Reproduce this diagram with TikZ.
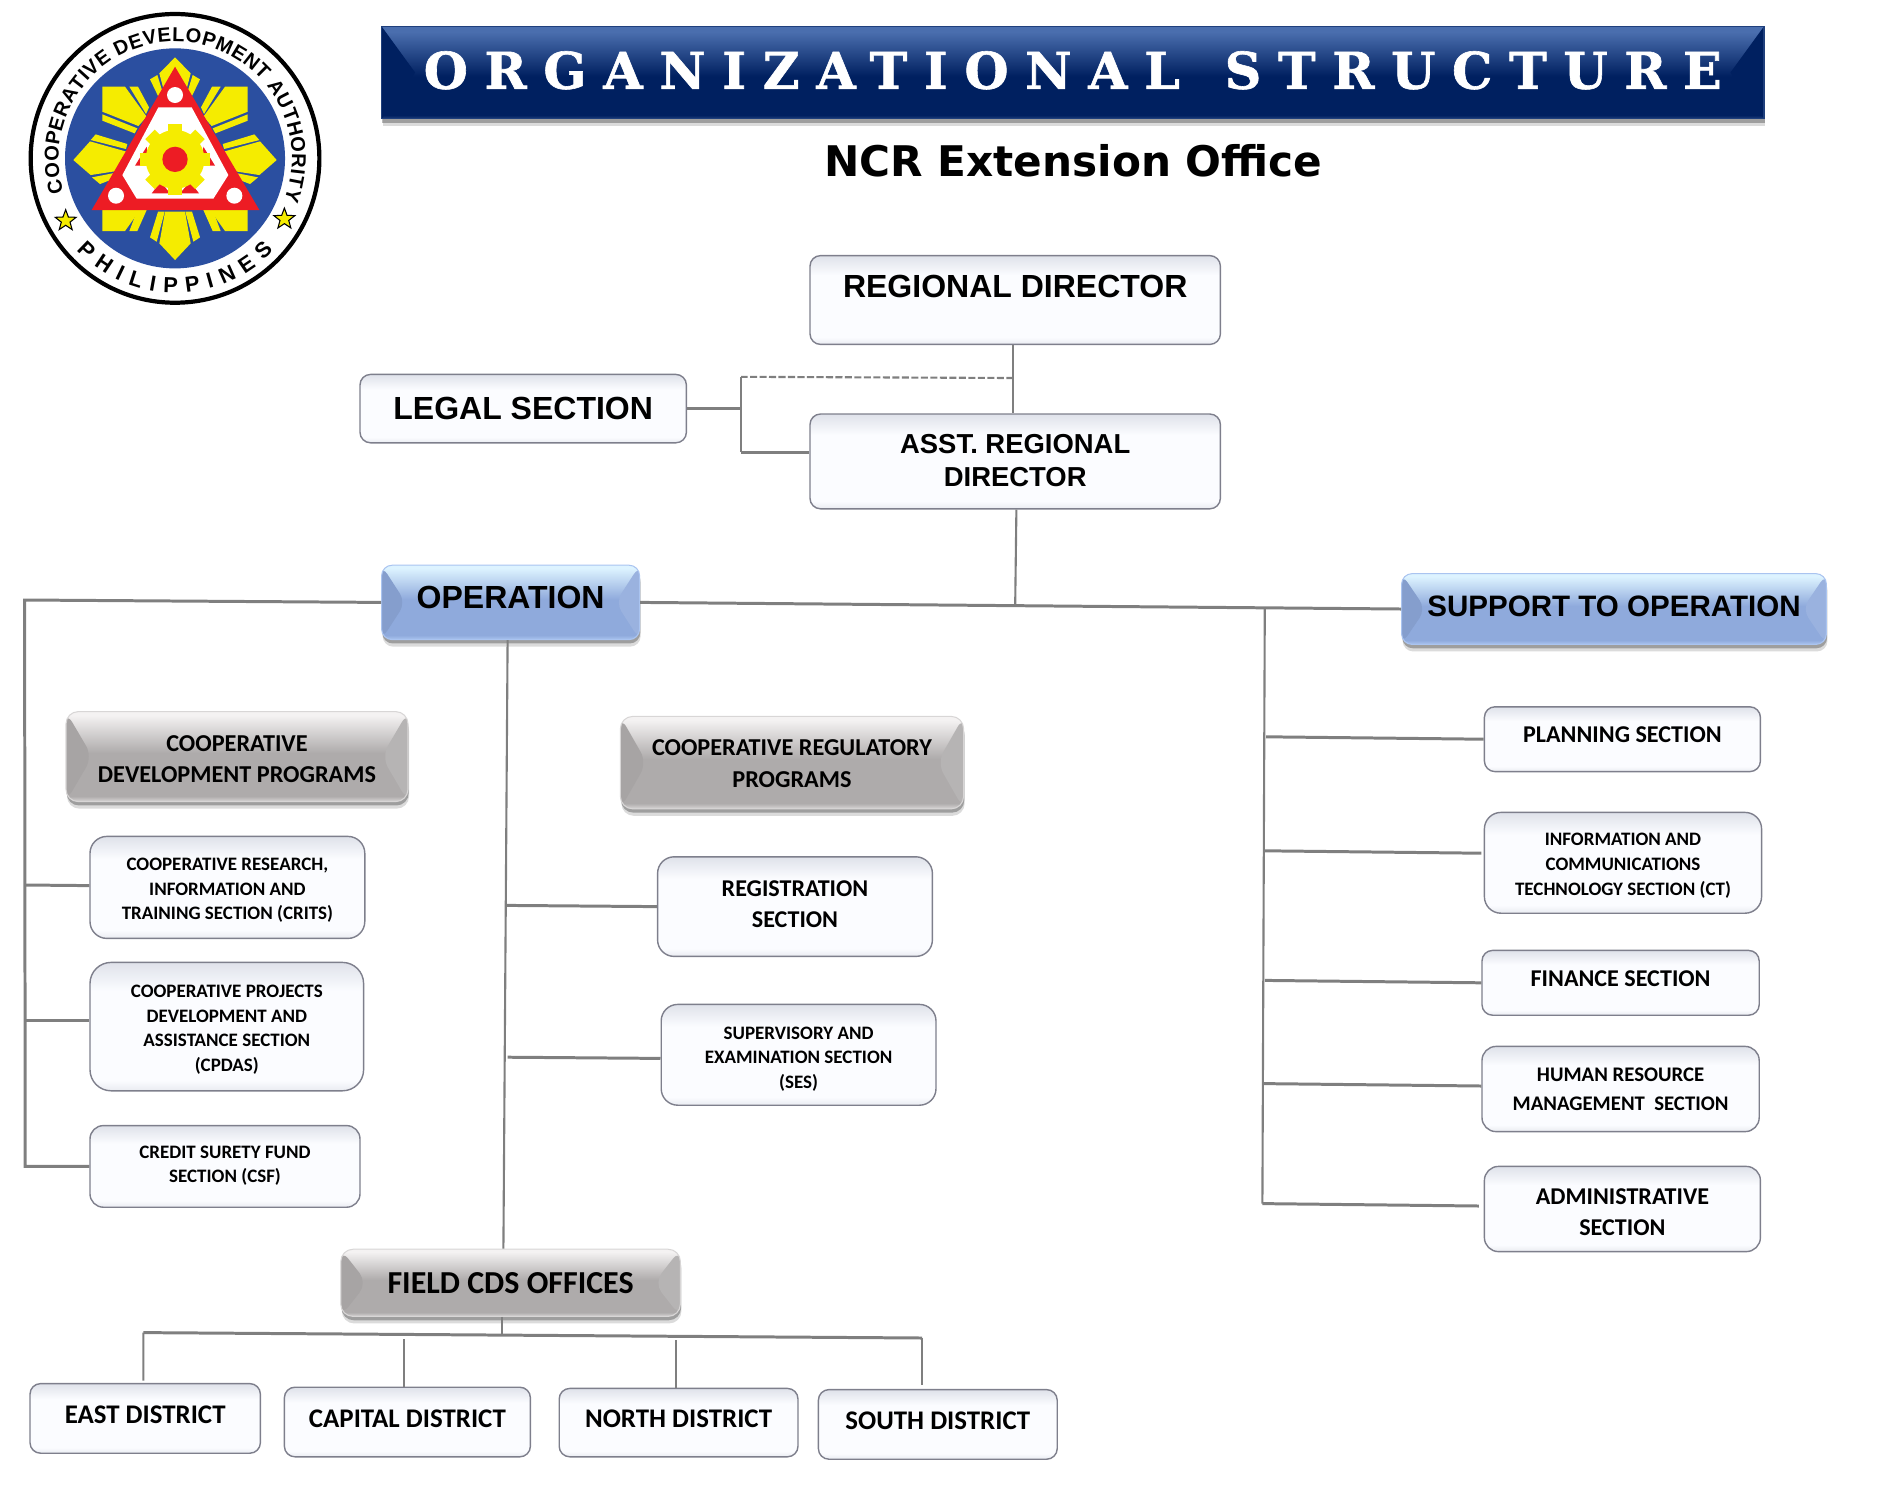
\documentclass[tikz,border=0pt]{standalone}
\usepackage{fontspec}
\setmainfont{Carlito}
\newfontfamily\arialfont{Liberation Sans}
\newfontfamily\titlefont[LetterSpace=33,FakeBold=1.2]{DejaVu Serif}
\newfontfamily\officefont{DejaVu Sans}
\usetikzlibrary{positioning,calc,shadows,shapes.geometric,decorations.text}
\definecolor{linegray}{HTML}{7F7F7F}
\definecolor{secedge}{HTML}{7E7F8C}
\definecolor{secmid}{HTML}{FBFCFF}
\definecolor{sectop}{HTML}{DFE2EA}
\definecolor{secbot}{HTML}{E9EBF1}
\definecolor{navytop}{HTML}{4A6EAE}
\definecolor{navy}{HTML}{002060}
\definecolor{navybot}{HTML}{1F3F7C}
\definecolor{bluetop}{HTML}{DDF3FF}
\definecolor{bluemid}{HTML}{8FAADC}
\definecolor{bluebot}{HTML}{AAC4F0}
\definecolor{graytop}{HTML}{F4F2F2}
\definecolor{graymid}{HTML}{AEABAB}
\definecolor{graybot}{HTML}{D8D6D6}
\definecolor{cdablue}{HTML}{2B4FA0}
\definecolor{cdayellow}{HTML}{F5EC00}
\definecolor{cdared}{HTML}{ED1C24}
\pgfdeclareverticalshading{secshade}{100bp}{color(0bp)=(secbot); color(25bp)=(secbot); color(29bp)=(secmid); color(64bp)=(secmid); color(75bp)=(sectop); color(100bp)=(sectop)}
\pgfdeclareverticalshading{navyshade}{100bp}{color(0bp)=(navybot); color(25bp)=(navybot); color(27bp)=(navy); color(48bp)=(navy); color(72bp)=(navytop); color(75bp)=(navytop); color(100bp)=(navytop)}
\pgfdeclareverticalshading{blueshade}{100bp}{color(0bp)=(bluebot); color(25bp)=(bluebot); color(28bp)=(bluemid); color(52bp)=(bluemid); color(73bp)=(bluetop); color(75bp)=(bluetop); color(100bp)=(bluetop)}
\pgfdeclareverticalshading{grayshade}{100bp}{color(0bp)=(graybot); color(25bp)=(graybot); color(28bp)=(graymid); color(52bp)=(graymid); color(73bp)=(graytop); color(75bp)=(graytop); color(100bp)=(graytop)}
\tikzset{
  boxsize/.style 2 args={minimum width=#1*0.012cm,minimum height=#2*0.012cm,inner sep=0pt,align=center},
  softshadow/.style={drop shadow={shadow xshift=0.3pt,shadow yshift=-2pt,opacity=0.14,fill=black},drop shadow={shadow xshift=0.2pt,shadow yshift=-1.1pt,opacity=0.28,fill=black}},
  bevel/.style n args={3}{path picture={
    \fill[#2] (path picture bounding box.north west) -- ($(path picture bounding box.west)+(#1,0)$) -- (path picture bounding box.south west) -- cycle;
    \fill[#3] (path picture bounding box.north east) -- ($(path picture bounding box.east)+(-#1,0)$) -- (path picture bounding box.south east) -- cycle;}}
}
\tikzstyle{conn} = [draw=linegray,line width=0.85pt]
\tikzstyle{thinconn} = [draw=linegray,line width=0.6pt]
\tikzstyle{secbox} = [draw=secedge,line width=0.4pt,rounded corners=3pt,shading=secshade]
\tikzstyle{bluebox} = [draw=bluebot,line width=0.3pt,rounded corners=3pt,shading=blueshade,softshadow,bevel={20}{bluemid!93!black}{bluemid!90!white}]
\tikzstyle{graybox} = [draw=graybot,line width=0.3pt,rounded corners=3.5pt,shading=grayshade,softshadow,bevel={22}{graymid!96!black}{graymid!90!white}]
\tikzstyle{bigtxt} = [font=\arialfont\bfseries\fontsize{9.1}{10}\selectfont]
\tikzstyle{asttxt} = [font=\arialfont\bfseries\fontsize{7.8}{9.2}\selectfont]
\tikzstyle{hdtxt} = [font=\bfseries\fontsize{6.9}{8.9}\selectfont]
\tikzstyle{medtxt} = [font=\bfseries\fontsize{6.85}{8.9}\selectfont]
\tikzstyle{disttxt} = [font=\bfseries\fontsize{7.65}{9}\selectfont]
\tikzstyle{smalltxt} = [font=\bfseries\fontsize{5.4}{7}\selectfont]
\tikzstyle{rayfill} = [fill=cdayellow,draw=none]
\begin{document}
\begin{tikzpicture}[x=0.012cm,y=-0.012cm]
\useasboundingbox (0,0) rectangle (1568.33,1245);
% seal
\begin{scope}[x=0.004cm/1.2,y=-0.004cm/1.2]
\filldraw[fill=white,draw=black,line width=1.2pt] (525,475) circle (433);
\fill[cdablue] (525,475) circle (330);
\fill[rayfill] (525,172) -- (572,220) -- (555,285) -- (495,285) -- (478,220) -- cycle;
\fill[rayfill] (450,238) -- (472,225) -- (492,290) -- (478,296) -- cycle;
\fill[rayfill] (600,238) -- (578,225) -- (558,290) -- (572,296) -- cycle;
\fill[rayfill] (525,780) -- (478,730) -- (495,635) -- (555,635) -- (572,730) -- cycle;
\fill[rayfill] (450,712) -- (470,725) -- (494,635) -- (474,635) -- cycle;
\fill[rayfill] (600,712) -- (580,725) -- (556,635) -- (576,635) -- cycle;
\fill[rayfill] (220,480) -- (270,424) -- (380,455) -- (370,510) -- (272,525) -- cycle;
\fill[rayfill] (287,403) -- (382,432) -- (378,447) -- (272,420) -- cycle;
\fill[rayfill] (276,532) -- (362,515) -- (362,528) -- (300,552) -- cycle;
\fill[rayfill] (830,480) -- (780,424) -- (670,455) -- (680,510) -- (778,525) -- cycle;
\fill[rayfill] (763,403) -- (668,432) -- (672,447) -- (778,420) -- cycle;
\fill[rayfill] (774,532) -- (688,515) -- (688,528) -- (750,552) -- cycle;
\fill[rayfill] (307,260) -- (375,260) -- (440,350) -- (415,378) -- (307,335) -- cycle;
\fill[rayfill] (388,260) -- (414,260) -- (447,322) -- (438,342) -- cycle;
\fill[rayfill] (307,343) -- (412,385) -- (404,400) -- (307,362) -- cycle;
\fill[rayfill] (743,260) -- (675,260) -- (610,350) -- (635,378) -- (743,335) -- cycle;
\fill[rayfill] (662,260) -- (636,260) -- (603,322) -- (612,342) -- cycle;
\fill[rayfill] (743,343) -- (638,385) -- (646,400) -- (743,362) -- cycle;
\fill[rayfill] (307,630) -- (420,630) -- (375,693) -- (307,693) -- cycle;
\fill[rayfill] (412,630) -- (440,630) -- (412,693) -- (388,693) -- cycle;
\fill[rayfill] (743,630) -- (630,630) -- (675,693) -- (743,693) -- cycle;
\fill[rayfill] (638,630) -- (610,630) -- (638,693) -- (662,693) -- cycle;
\fill[cdared] (525,200) -- (778,630) -- (275,630) -- cycle;
\fill[white] (475,322) -- (575,322) -- (685,525) -- (640,596) -- (410,596) -- (367,525) -- cycle;
\fill[white] (525,285) circle (24) (348,587) circle (24) (703,587) circle (24);
\fill[cdared] (405,497) -- (440,440) -- (445,497) -- cycle;
\fill[cdared] (645,497) -- (610,440) -- (605,497) -- cycle;
\fill[cdared] (455,580) -- (482,545) -- (510,580) -- cycle;
\fill[cdared] (597,580) -- (570,545) -- (540,580) -- cycle;
\fill[cdayellow] (525,478) circle (88);
\foreach \a in {0,45,...,315}
  \fill[cdayellow,rotate around={\a:(525,478)}] (505,372) rectangle (545,410);
\fill[cdared] (525,478) circle (38);
\node (staro) [star,star points=5,star point ratio=2.4,fill=cdayellow,draw=black,line width=0.3pt,minimum size=0.22cm,inner sep=0pt] at (197,662) {};
\node (start) [star,star points=5,star point ratio=2.4,fill=cdayellow,draw=black,line width=0.3pt,minimum size=0.22cm,inner sep=0pt] at (853,657) {};
\end{scope}
\begin{scope}[shift={(146,132)},x=0.004cm/1.2,y=0.004cm/1.2]
\path[decorate,decoration={text along path,text align={fit to path},text={|\arialfont\bfseries\fontsize{5.7}{6}\selectfont|COOPERATIVE DEVELOPMENT AUTHORITY}}] (197:350) arc[start angle=197,end angle=-21,radius=350];
\path[decorate,decoration={text along path,text align={fit to path},text={|\arialfont\bfseries\fontsize{6.2}{6}\selectfont|PHILIPPINES}}] (223:404) arc[start angle=223,end angle=317,radius=404];
\end{scope}
% banner and title
\node (banner) [boxsize={1152}{77},draw=navybot,line width=0.3pt,shading=navyshade,softshadow,bevel={28}{navy}{navy},text=white,font=\titlefont\bfseries\fontsize{14.4}{16}\selectfont,text depth=1.5pt] at (894,60.5) {ORGANIZATIONAL\hspace{3pt} STRUCTURE};
\node (office) [font=\officefont\bfseries\fontsize{12}{14}\selectfont,inner sep=0pt] at (894.5,134) {NCR Extension Office};
% top of the chart
\node (regdir) [secbox,bigtxt,boxsize={342}{74},text depth=7.5pt] at (846,250) {REGIONAL DIRECTOR};
\node (legal) [secbox,bigtxt,boxsize={272}{57}] at (436,340.5) {LEGAL SECTION};
\node (asstdir) [secbox,asttxt,boxsize={342}{79},text depth=0.6pt] at (846,384.5) {ASST. REGIONAL\\DIRECTOR};
\node (oper) [bluebox,bigtxt,boxsize={215}{62},text depth=2.8pt] at (425.5,502) {OPERATION};
\node (support) [bluebox,boxsize={354}{59},text depth=1.5pt,font=\arialfont\bfseries\fontsize{8.4}{9}\selectfont] at (1345,507.5) {SUPPORT TO OPERATION};
% program heads
\node (devprog) [graybox,hdtxt,boxsize={285}{75},text height=14.7pt,text depth=0pt] at (197.5,630.5) {COOPERATIVE\\DEVELOPMENT PROGRAMS};
\node (regprog) [graybox,hdtxt,boxsize={286}{77},text height=14pt,text depth=0pt] at (660,635.5) {COOPERATIVE REGULATORY\\PROGRAMS};
\node (field) [graybox,boxsize={283}{56},font=\bfseries\fontsize{9.1}{10}\selectfont] at (425.5,1069) {FIELD CDS OFFICES};
% left column
\node (crits) [secbox,smalltxt,boxsize={229}{85},rounded corners=4.8pt,text height=18.4pt,text depth=0pt] at (189.5,739.5) {COOPERATIVE RESEARCH,\\INFORMATION AND\\TRAINING SECTION (CRITS)};
\node (cpdas) [secbox,smalltxt,boxsize={228}{107},rounded corners=6pt,text height=25.4pt,text depth=0pt] at (189,855.5) {COOPERATIVE PROJECTS\\DEVELOPMENT AND\\ASSISTANCE SECTION\\(CPDAS)};
\node (csf) [secbox,smalltxt,boxsize={225}{68},rounded corners=3.8pt,text depth=1.2pt] at (187.5,972) {CREDIT SURETY FUND\\SECTION (CSF)};
% middle column
\node (regsec) [secbox,medtxt,boxsize={229}{83},rounded corners=4.7pt,text depth=1.4pt] at (662.5,755.5) {REGISTRATION\\SECTION};
\node (ses) [secbox,smalltxt,boxsize={229}{84},rounded corners=4.7pt,text height=19.1pt,text depth=0pt] at (665.5,879) {SUPERVISORY AND\\EXAMINATION SECTION\\(SES)};
% right column
\node (plan) [secbox,medtxt,boxsize={230}{54},text depth=2.6pt] at (1352,616) {PLANNING SECTION};
\node (ict) [secbox,smalltxt,boxsize={231}{84},rounded corners=4.7pt,text height=18.4pt,text depth=0pt] at (1352.5,719) {INFORMATION AND\\COMMUNICATIONS\\TECHNOLOGY SECTION (CT)};
\node (fin) [secbox,medtxt,boxsize={231}{54},text depth=2.6pt] at (1350.5,819) {FINANCE SECTION};
\node (hrm) [secbox,font=\bfseries\fontsize{5.9}{8.2}\selectfont,boxsize={231}{71},rounded corners=4pt] at (1350.5,907.5) {HUMAN RESOURCE\\MANAGEMENT\ \ SECTION};
\node (admin) [secbox,medtxt,boxsize={230}{71},rounded corners=4pt,text height=15.3pt,text depth=0pt] at (1352,1007.5) {ADMINISTRATIVE\\SECTION};
% districts
\node (east) [secbox,disttxt,boxsize={192}{58},text depth=2pt] at (121,1182) {EAST DISTRICT};
\node (capital) [secbox,disttxt,boxsize={205}{58},text depth=2pt] at (339.5,1185) {CAPITAL DISTRICT};
\node (north) [secbox,disttxt,boxsize={199}{57},text depth=2pt] at (565.5,1185.5) {NORTH DISTRICT};
\node (south) [secbox,disttxt,boxsize={199}{58},text depth=2pt] at (781.5,1187) {SOUTH DISTRICT};
% junctions
\coordinate (dashr) at (844.5,315);
\coordinate (dashl) at (617.5,314);
\coordinate (legj) at (617.5,340.5);
\coordinate (asstj) at (617.5,377);
\coordinate (mainj) at (846,504);
\coordinate (lefttop) at (20.5,500);
\coordinate (leftbot) at (21,972);
\coordinate (leftb) at (21,737.5);
\coordinate (leftc) at (21,850);
\coordinate (midb) at (422,754.5);
\coordinate (midc) at (423,881);
\coordinate (rtop) at (1054,506);
\coordinate (rbot) at (1052,1003);
\coordinate (ra) at (1055,614);
\coordinate (rb) at (1054,709);
\coordinate (rc) at (1054,817);
\coordinate (rd) at (1053,903);
\coordinate (barl) at (119.5,1110.5);
\coordinate (barr) at (768.5,1115);
\coordinate (drop) at (418.5,1112);
\coordinate (barb) at (337,1116);
\coordinate (barc) at (563,1117);
% connectors
\draw[thinconn] ($(regdir.south)+(-1.5,0)$) -- ($(asstdir.north)+(-1.5,0)$);
\draw[thinconn,dashed,dash pattern=on 2pt off 0.7pt] (dashr) -- (dashl);
\draw[thinconn] (dashl) -- (asstj);
\draw[conn] (legal.east) -- (legj);
\draw[conn] (asstj) -- ($(asstdir.west)+(0,-7.5)$);
\draw[thinconn] ($(asstdir.south)+(1,0)$) -- (mainj);
\draw[conn] (oper.east) -- (support.west);
\draw[conn] (oper.west) -- (lefttop) -- (leftbot) -- (csf.west);
\draw[conn] (leftb) -- ($(crits.west)+(0,-1.5)$);
\draw[conn] (leftc) -- ($(cpdas.west)+(0,-5.5)$);
\draw[thinconn] ($(oper.south)+(-2.5,0)$) -- ($(field.north)+(-6,0)$);
\draw[conn] (midb) -- (regsec.west);
\draw[conn] (midc) -- ($(ses.west)+(0,3)$);
\draw[thinconn] (rtop) -- (rbot);
\draw[conn] (rbot) -- ($(admin.west)+(-4,-2.5)$);
\draw[conn] (ra) -- (plan.west);
\draw[conn] (rb) -- ($(ict.west)+(-2,-8)$);
\draw[conn] (rc) -- (fin.west);
\draw[conn] (rd) -- ($(hrm.west)+(0,-2.5)$);
\draw[thinconn] ($(field.south)+(-7,0)$) -- (drop);
\draw[conn] (barl) -- (barr);
\draw[thinconn] (barl) -- ($(east.north)+(-1.5,-2)$);
\draw[thinconn] (barb) -- (barb |- capital.north);
\draw[thinconn] (barc) -- (barc |- north.north);
\draw[thinconn] (barr) -- ($(barr |- south.north)+(0,-3)$);
\end{tikzpicture}
\end{document}
